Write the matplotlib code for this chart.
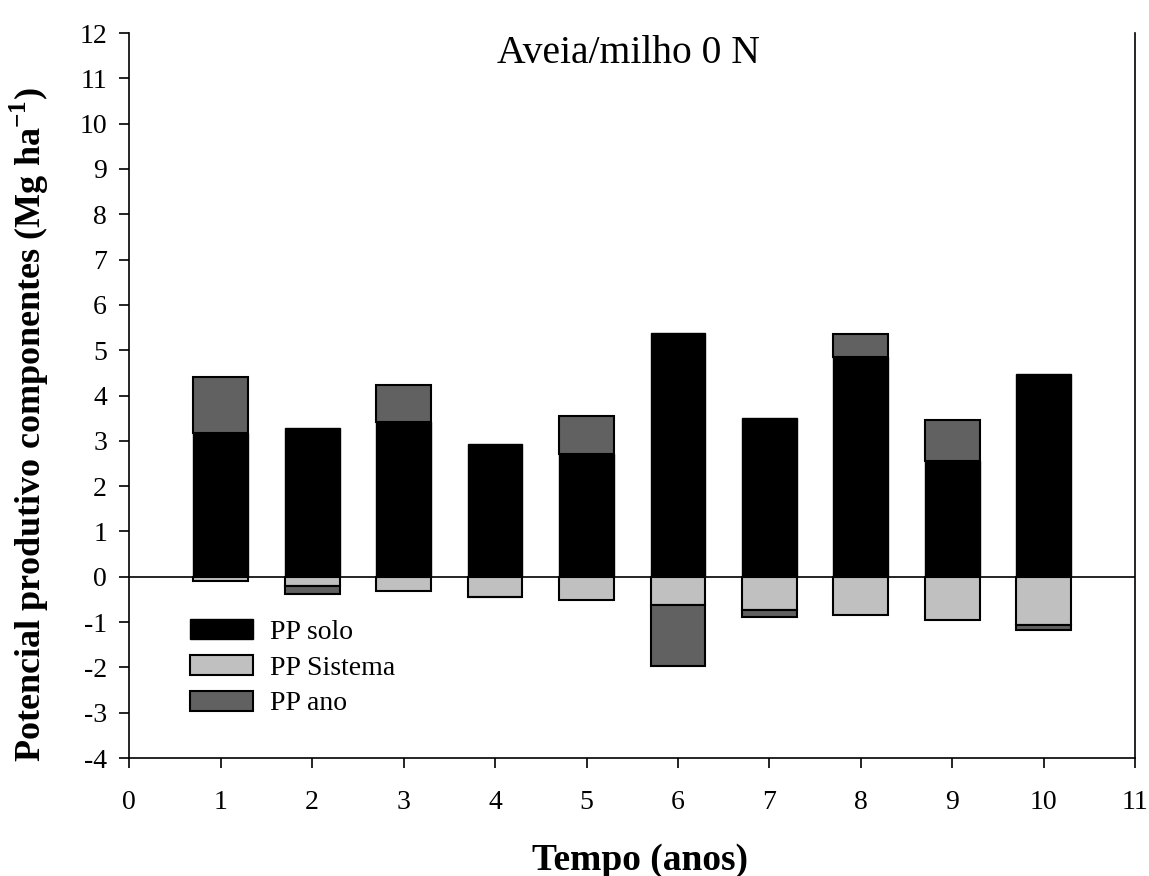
import numpy as np
import matplotlib.pyplot as plt

plt.rcParams['font.family'] = 'Liberation Serif'
plt.rcParams['axes.unicode_minus'] = False

# datos
anos = np.arange(1, 11)
pp_solo = [3.18, 3.29, 3.42, 2.94, 2.71, 5.38, 3.51, 4.84, 2.55, 4.47]
pp_sistema = [-0.10, -0.21, -0.31, -0.44, -0.52, -0.63, -0.74, -0.85, -0.96, -1.07]
pp_ano = [1.23, -0.16, 0.81, 0.0, 0.84, -1.34, -0.14, 0.52, 0.92, -0.10]

solo = np.array(pp_solo)
sist = np.array(pp_sistema)
ano = np.array(pp_ano)
base_ano = np.where(ano > 0, solo, sist)

fig = plt.figure(figsize=(11.49, 8.76), dpi=100)
ax = fig.add_axes([0.1125, 0.1347, 0.8755, 0.8276])

w = 0.6
ax.bar(anos, solo, w, color='black', edgecolor='black', linewidth=1, label='PP solo')
ax.bar(anos, sist, w, color='#c0c0c0', edgecolor='black', linewidth=1.5, label='PP Sistema')
ax.bar(anos, ano, w, bottom=base_ano, color='#616161', edgecolor='black', linewidth=1.5, label='PP ano')
ax.axhline(0, color='black', linewidth=1.2)

ax.set_xlim(0, 11)
ax.set_ylim(-4, 12)
ax.set_xticks(range(0, 12))
ax.set_yticks(range(-4, 13))
ax.tick_params(direction='out', length=7, width=1.2, labelsize=20)
ax.tick_params(axis='y', pad=9)
ax.tick_params(axis='x', pad=16)
ax.spines['top'].set_visible(False)
for s in ['left', 'right', 'bottom']:
    ax.spines[s].set_linewidth(1.2)

fig.text(628 / 1149, 1 - 63 / 876, 'Aveia/milho 0 N', ha='center', va='baseline', fontsize=28.5)
fig.text(640 / 1149, 1 - 870 / 876, 'Tempo (anos)', ha='center', va='baseline',
         fontsize=27, fontweight='bold')
fig.text(29 / 1149, 1 - 424 / 876, 'Potencial produtivo componentes (Mg ha$^{\\mathregular{-1}}$)',
         ha='center', va='center', rotation=90, fontsize=26, fontweight='bold')

ax.legend(loc='upper left', bbox_to_anchor=(190 / 1149, 1 - 619 / 876),
          bbox_transform=fig.transFigure, frameon=False, fontsize=20,
          borderpad=0, borderaxespad=0,
          handlelength=2.27, handleheight=0.74, labelspacing=0.36, handletextpad=0.6)

fig.savefig('out.png', dpi=100)
